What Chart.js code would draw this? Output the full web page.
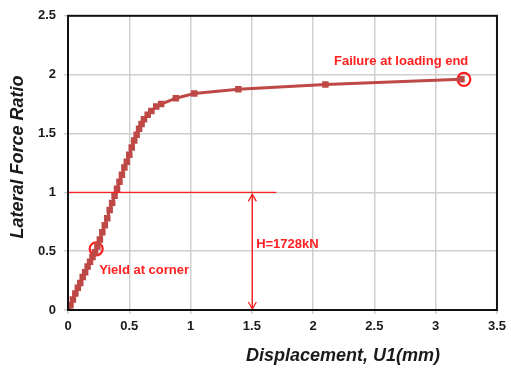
<!DOCTYPE html>
<html>
<head>
<meta charset="utf-8">
<script src="https://cdn.jsdelivr.net/npm/chart.js@4/dist/chart.umd.min.js"></script>
<style>
  html, body { margin: 0; padding: 0; background: #fff; }
  #wrap { width: 511px; height: 376px; }
</style>
</head>
<body>
<div id="wrap"><canvas id="grafico"></canvas></div>
<script>
// datos
const desplazamiento = [0, 0.02, 0.04, 0.06, 0.08, 0.10, 0.12, 0.14, 0.16, 0.18, 0.20, 0.22, 0.24, 0.26, 0.28,
  0.30, 0.32, 0.34, 0.36, 0.38, 0.40, 0.42, 0.44, 0.46, 0.48, 0.50, 0.52, 0.54, 0.56, 0.58, 0.60, 0.62,
  0.65, 0.68, 0.72, 0.76, 0.88, 1.03, 1.39, 2.10, 3.21];
const ratio = [0, 0.04, 0.09, 0.14, 0.19, 0.23, 0.28, 0.32, 0.37, 0.41, 0.45, 0.49, 0.54, 0.60, 0.66,
  0.72, 0.78, 0.85, 0.91, 0.97, 1.03, 1.09, 1.15, 1.21, 1.26, 1.32, 1.38, 1.44, 1.49, 1.54, 1.58, 1.62,
  1.66, 1.69, 1.73, 1.75, 1.80, 1.84, 1.875, 1.917, 1.96];
const xTicks = [0, 0.5, 1, 1.5, 2, 2.5, 3, 3.5];
const yTicks = [0, 0.5, 1, 1.5, 2, 2.5];
const circulos = [{ x: 0.23, y: 0.52 }, { x: 3.23, y: 1.96 }];
const lineaH = [{ x: 0, y: 1 }, { x: 1.7, y: 1 }];
const flecha = { x: 1.5, y0: 0, y1: 1 };
const etiquetas = [
  { text: "Yield at corner", x: 0.255, y: 0.335, align: "left" },
  { text: "Failure at loading end", x: 2.17, y: 2.11, align: "left" },
  { text: "H=1728kN", x: 1.535, y: 0.555, align: "left" }
];

const rojo = "#ff2020";
const serie = "#bd4845";

const anotaciones = {
  id: "anotaciones",
  afterDatasetsDraw(chart) {
    const { ctx, scales: { x, y } } = chart;
    ctx.save();
    // flecha doble vertical
    const px = x.getPixelForValue(flecha.x) + 0.5;
    const p0 = y.getPixelForValue(flecha.y0);
    const p1 = y.getPixelForValue(flecha.y1);
    ctx.strokeStyle = rojo;
    ctx.lineWidth = 1.3;
    ctx.beginPath();
    ctx.moveTo(px, p0 - 1); ctx.lineTo(px, p1 + 2);
    ctx.moveTo(px - 4, p1 + 9); ctx.lineTo(px, p1 + 2); ctx.lineTo(px + 4, p1 + 9);
    ctx.moveTo(px - 4, p0 - 8); ctx.lineTo(px, p0 - 1); ctx.lineTo(px + 4, p0 - 8);
    ctx.stroke();
    // textos
    ctx.fillStyle = rojo;
    ctx.font = "bold 13px 'Liberation Sans', Arial, sans-serif";
    ctx.textBaseline = "middle";
    etiquetas.forEach(e => {
      ctx.textAlign = e.align;
      ctx.fillText(e.text, x.getPixelForValue(e.x), y.getPixelForValue(e.y));
    });
    // titulos de ejes
    ctx.fillStyle = "#1a1a1a";
    ctx.font = "italic bold 18px 'Liberation Sans', Arial, sans-serif";
    ctx.textAlign = "center";
    ctx.fillText("Displacement, U1(mm)", 343, 356);
    ctx.translate(18, 157);
    ctx.rotate(-Math.PI / 2);
    ctx.fillText("Lateral Force Ratio", 0, 0);
    ctx.restore();
  }
};

const ctx = document.getElementById("grafico").getContext("2d");
new Chart(ctx, {
  type: "scatter",
  data: {
    datasets: [
      {
        data: lineaH,
        showLine: true,
        borderColor: rojo,
        borderWidth: 1.2,
        pointRadius: 0
      },
      {
        data: desplazamiento.map((v, i) => ({ x: v, y: ratio[i] })),
        showLine: true,
        borderColor: serie,
        backgroundColor: serie,
        borderWidth: 3,
        pointStyle: "rect",
        pointRadius: 4.6,
        pointBorderWidth: 0
      },
      {
        data: circulos,
        showLine: false,
        pointStyle: "circle",
        pointRadius: 6.5,
        borderColor: rojo,
        backgroundColor: "rgba(0,0,0,0)",
        pointBorderWidth: 2.2
      }
    ]
  },
  options: {
    responsive: true,
    maintainAspectRatio: false,
    animation: false,
    layout: { padding: { top: 14, right: 13, left: 0, bottom: 0 } },
    plugins: { legend: { display: false }, tooltip: { enabled: false } },
    scales: {
      x: {
        type: "linear",
        min: 0, max: 3.5,
        afterBuildTicks: s => { s.ticks = xTicks.map(v => ({ value: v })); },
        afterFit: s => { s.height = 66; },
        grid: { color: "#cfcfcf", lineWidth: 1.5, tickLength: 4, drawTicks: true },
        border: { color: "#111", width: 2 },
        ticks: {
          color: "#1a1a1a",
          padding: 5,
          font: { family: "'Liberation Sans', Arial", size: 13, weight: "bold" },
          callback: v => String(v)
        }
      },
      y: {
        type: "linear",
        min: 0, max: 2.5,
        afterBuildTicks: s => { s.ticks = yTicks.map(v => ({ value: v })); },
        afterFit: s => { s.width = 68; },
        grid: { color: "#cfcfcf", lineWidth: 1.5, tickLength: 4 },
        border: { color: "#111", width: 2 },
        ticks: {
          color: "#1a1a1a",
          padding: 8,
          font: { family: "'Liberation Sans', Arial", size: 13, weight: "bold" },
          callback: v => String(v)
        }
      }
    }
  },
  plugins: [
    anotaciones,
    {
      id: "marco",
      afterDraw(chart) {
        const a = chart.chartArea, c = chart.ctx;
        c.save();
        c.strokeStyle = "#111";
        c.lineWidth = 2;
        c.strokeRect(a.left, a.top, a.right - a.left, a.bottom - a.top);
        c.restore();
      }
    }
  ]
});
</script>
</body>
</html>
